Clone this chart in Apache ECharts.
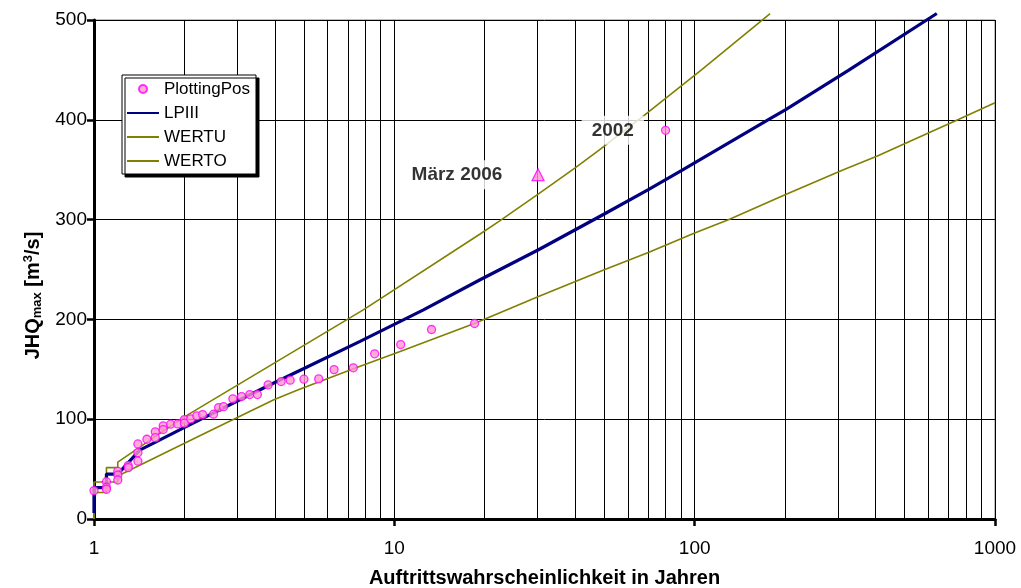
<!DOCTYPE html>
<html><head><meta charset="utf-8">
<script src="https://cdn.jsdelivr.net/npm/echarts@6.0.0/dist/echarts.min.js"></script>
<style>html,body{margin:0;padding:0;background:#fff}#c{width:1021px;height:588px}</style>
</head><body><div id="c"></div>
<script>
// ---- data ----
const xTickValues = [1, 10, 100, 1000];
const yTickValues = [0, 100, 200, 300, 400, 500];
const xMinorGrid = [2,3,4,5,6,7,8,9,20,30,40,50,60,70,80,90,200,300,400,500,600,700,800,900];

// plotting positions (return period in years, JHQmax m3/s)
const plotT = [1.0, 1.1, 1.1, 1.1, 1.2, 1.2, 1.2, 1.3, 1.3, 1.4, 1.4, 1.4, 1.5, 1.6, 1.6, 1.7, 1.7, 1.8, 1.9, 2.0, 2.0, 2.1, 2.2, 2.3, 2.5, 2.6, 2.7, 2.9, 3.1, 3.3, 3.5, 3.8, 4.2, 4.5, 5.0, 5.6, 6.3, 7.3, 8.6, 10.5, 13.3, 18.5, 80];
const plotQ = [28.4, 37.4, 31.8, 29.8, 47.8, 44.1, 39.1, 53.5, 51.5, 75.2, 66.5, 57.9, 79.9, 87.3, 81.5, 93.3, 89.6, 95.0, 95.3, 99.6, 96.0, 100.3, 103.3, 104.6, 105.0, 111.6, 112.6, 120.4, 122.7, 124.7, 124.7, 134.4, 137.7, 139.1, 140.1, 140.4, 149.7, 151.5, 165.5, 174.8, 189.9, 195.9, 389.5];

// March 2006 event
const m2006T = [30.1];
const m2006Q = [345];

// LPIII fitted curve
const lp3T = [1.0, 1.0, 1.1, 1.1, 1.2, 1.42, 1.98, 2.99, 3.86, 4.98, 7.69, 12.5, 19.3, 30.2, 50, 70.1, 90.6, 178.3, 201, 325, 640];
const lp3Q = [6, 31.5, 31.5, 45, 45, 69, 91, 118, 134.5, 150.5, 178, 209.5, 239.7, 269.8, 305.6, 330, 349.4, 401.2, 410.2, 449.6, 506.5];

// lower confidence bound
const wertuT = [1.0, 1.0, 1.1, 1.1, 1.2, 1.2, 2.34, 3.97, 4.79, 7.27, 10.45, 18.47, 30.2, 50, 70.1, 100, 129.5, 200, 312.8, 404, 755, 1000];
const wertuQ = [0, 26.5, 26.5, 37, 37, 43, 86, 119.4, 129.4, 150.2, 167.8, 195.9, 223, 249.7, 267.1, 286.6, 299.9, 325, 350, 363.4, 400.2, 417];

// upper confidence bound
const wertoT = [1.0, 1.0, 1.1, 1.1, 1.2, 1.2, 1.98, 3.57, 7.88, 19.3, 22.5, 30.2, 40, 48.3, 67.9, 105.6, 178.3];
const wertoQ = [0, 37, 37, 51.5, 51.5, 57, 101.6, 147.7, 209.6, 285.6, 298.9, 325.7, 351.8, 370.1, 404.5, 450.3, 506.5];

const FONT = 'Liberation Sans, Arial, sans-serif';
const pair = (xs, ys) => xs.map((x, i) => [x, ys[i]]);

const topIdx = plotQ.indexOf(Math.max(...plotQ));
const plotData = pair(plotT, plotQ).map((p, i) => i === topIdx ? {
  value: p,
  label: {show: true, formatter: '2002', position: 'left', distance: 17,
    fontFamily: FONT, fontWeight: 'bold', fontSize: 19, color: '#000',
    backgroundColor: '#fff', padding: [5, 10, 5, 10]}
} : p);

const noSym = {opacity: 0};
const chart = echarts.init(document.getElementById('c'), null, {renderer: 'canvas'});
chart.setOption({
  animation: false,
  backgroundColor: '#fff',
  textStyle: {fontFamily: FONT},
  grid: {left: 94, right: 26, top: 20, bottom: 69, show: true, borderColor: '#808080', borderWidth: 1,
    backgroundColor: 'transparent', containLabel: false, outerBoundsMode: 'none'},
  legend: {
    orient: 'vertical', left: 122, top: 75,
    data: [
      {name: 'PlottingPos'},
      {name: 'LPIII', itemStyle: noSym},
      {name: 'WERTU', itemStyle: noSym},
      {name: 'WERTO', itemStyle: noSym}
    ],
    itemWidth: 32, itemHeight: 8, itemGap: 6,
    padding: [5, 6, 4, 4],
    backgroundColor: '#fff', borderColor: '#000', borderWidth: 1,
    shadowColor: '#000', shadowBlur: 0, shadowOffsetX: 3, shadowOffsetY: 3,
    textStyle: {fontFamily: FONT, fontSize: 17, color: '#000', lineHeight: 18}
  },
  xAxis: {
    type: 'log', logBase: 10, min: 1, max: 1000, splitNumber: 3,
    name: 'Auftrittswahrscheinlichkeit in Jahren', nameLocation: 'middle', nameGap: 49,
    nameTextStyle: {fontFamily: FONT, fontWeight: 'bold', fontSize: 20, color: '#000'},
    axisLine: {show: true, lineStyle: {color: '#000', width: 3}},
    axisTick: {show: true, length: 7, lineStyle: {color: '#000', width: 2.5}, customValues: xTickValues},
    axisLabel: {margin: 20, fontFamily: FONT, fontSize: 19, color: '#000', customValues: xTickValues, formatter: v => String(v)},
    splitLine: {show: true, lineStyle: {color: '#000', width: 1}}
  },
  yAxis: {
    type: 'value', min: 0, max: 500, interval: 50,
    name: '{a|JHQ}{s|max}{a| [m}{p|3}{a|/s]}', nameLocation: 'middle', nameGap: 39, nameRotate: 90,
    nameTextStyle: {
      padding: [0, 52, 0, 0],
      rich: {
        a: {fontFamily: FONT, fontWeight: 'bold', fontSize: 20, color: '#000', lineHeight: 22},
        s: {fontFamily: FONT, fontWeight: 'bold', fontSize: 13, color: '#000', lineHeight: 12, verticalAlign: 'bottom'},
        p: {fontFamily: FONT, fontWeight: 'bold', fontSize: 13, color: '#000', lineHeight: 12, verticalAlign: 'top'}
      }
    },
    axisLine: {show: true, lineStyle: {color: '#000', width: 3}},
    axisTick: {show: true, length: 7, lineStyle: {color: '#000', width: 2.5}, customValues: yTickValues},
    axisLabel: {margin: 7, fontFamily: FONT, fontSize: 19, color: '#000', customValues: yTickValues},
    splitLine: {show: true, lineStyle: {color: '#000', width: 1}}
  },
  series: [
    {
      name: 'grid', type: 'line', data: [], silent: true,
      markLine: {
        silent: true, symbol: 'none', z: 1, animation: false,
        label: {show: false},
        lineStyle: {color: '#000', width: 1, type: 'solid'},
        emphasis: {disabled: true},
        data: xMinorGrid.map(v => ({xAxis: v}))
      }
    },
    {
      name: 'WERTU', type: 'line', data: pair(wertuT, wertuQ), symbol: 'none', clip: false,
      lineStyle: {color: '#808000', width: 1.6}, itemStyle: {color: '#808000'}, z: 3
    },
    {
      name: 'WERTO', type: 'line', data: pair(wertoT, wertoQ), symbol: 'none', clip: false,
      lineStyle: {color: '#808000', width: 1.6}, itemStyle: {color: '#808000'}, z: 3
    },
    {
      name: 'LPIII', type: 'line', data: pair(lp3T, lp3Q), symbol: 'none', clip: false,
      lineStyle: {color: '#000080', width: 3.2}, itemStyle: {color: '#000080'}, z: 4
    },
    {
      name: 'PlottingPos', type: 'scatter', data: plotData, symbol: 'circle', symbolSize: 8, clip: false,
      itemStyle: {color: '#ff99cc', borderColor: '#ff00ff', borderWidth: 1.3}, z: 5
    },
    {
      name: 'März 2006', type: 'scatter', symbol: 'triangle', symbolSize: 12, z: 5,
      itemStyle: {color: '#ff99cc', borderColor: '#ff00ff', borderWidth: 1.3},
      label: {show: true, formatter: 'März 2006', position: 'left', distance: 14,
        fontFamily: FONT, fontWeight: 'bold', fontSize: 19, color: '#000',
        backgroundColor: '#fff', padding: [5, 15, 5, 15]},
      data: pair(m2006T, m2006Q)
    }
  ]
});
</script></body></html>
